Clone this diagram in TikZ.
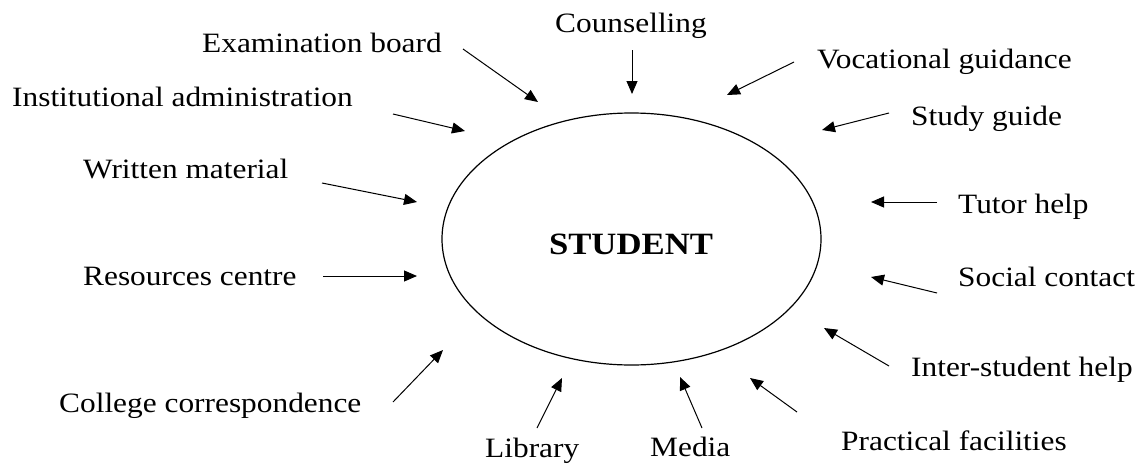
\documentclass[tikz,border=0pt]{standalone}
\usepackage{fontspec}
\setmainfont[FakeStretch=1.12]{Liberation Serif}
\usetikzlibrary{arrows.meta,shapes.geometric}
\tikzset{
  lbl/.style={anchor=base west, inner sep=0pt, font=\fontsize{28}{32}\selectfont},
  inarrow/.style={line width=1pt, -{Triangle[length=13pt,width=11pt]}},
  ring/.style={draw, ellipse, line width=1.2pt, inner sep=0pt}
}
\begin{document}
\begin{tikzpicture}[x=1pt,y=-1pt]
\useasboundingbox (0,0) rectangle (1139,463);
% central ellipse
\node[ring, minimum width=379pt, minimum height=252pt] (student) at (631.5,239) {};
\node[inner sep=0pt, font=\bfseries\fontsize{31}{34}\selectfont] (studenttxt) at (631,244) {STUDENT};
% labels
\node[lbl] (exam) at (202,52) {Examination board};
\node[lbl] (inst) at (12,106) {Institutional administration};
\node[lbl] (writ) at (83,178) {Written material};
\node[lbl] (reso) at (83,285) {Resources centre};
\node[lbl] (coll) at (59,412) {College correspondence};
\node[lbl] (coun) at (555,32) {Counselling};
\node[lbl] (voca) at (817,68) {Vocational guidance};
\node[lbl] (stud) at (911,125) {Study guide};
\node[lbl] (tuto) at (958,213) {Tutor help};
\node[lbl] (soci) at (958,286) {Social contact};
\node[lbl] (inte) at (911,376) {Inter-student help};
\node[lbl] (prac) at (841,450) {Practical facilities};
\node[lbl] (libr) at (485,457) {Library};
\node[lbl] (medi) at (650,456) {Media};
% arrow ends
\coordinate (examA) at (463,49);  \coordinate (examB) at (538,102);
\coordinate (instA) at (393,114); \coordinate (instB) at (465,131);
\coordinate (writA) at (322,183); \coordinate (writB) at (417,202);
\coordinate (resoA) at (323,276); \coordinate (resoB) at (417,276);
\coordinate (collA) at (393,402); \coordinate (collB) at (443,350);
\coordinate (counA) at (632,50);  \coordinate (counB) at (632,94);
\coordinate (vocaA) at (794,62);  \coordinate (vocaB) at (727,95);
\coordinate (studA) at (889,113); \coordinate (studB) at (822,130);
\coordinate (tutoA) at (937,202); \coordinate (tutoB) at (871,202);
\coordinate (sociA) at (937,293); \coordinate (sociB) at (871,277);
\coordinate (inteA) at (889,366); \coordinate (inteB) at (824,328);
\coordinate (pracA) at (797,412); \coordinate (pracB) at (750,378);
\coordinate (librA) at (537,428); \coordinate (librB) at (562,378);
\coordinate (mediA) at (702,428); \coordinate (mediB) at (680,377);
\foreach \n in {exam,inst,writ,reso,coll,coun,voca,stud,tuto,soci,inte,prac,libr,medi}
  \draw[inarrow] (\n A) -- (\n B);
\end{tikzpicture}
\end{document}
